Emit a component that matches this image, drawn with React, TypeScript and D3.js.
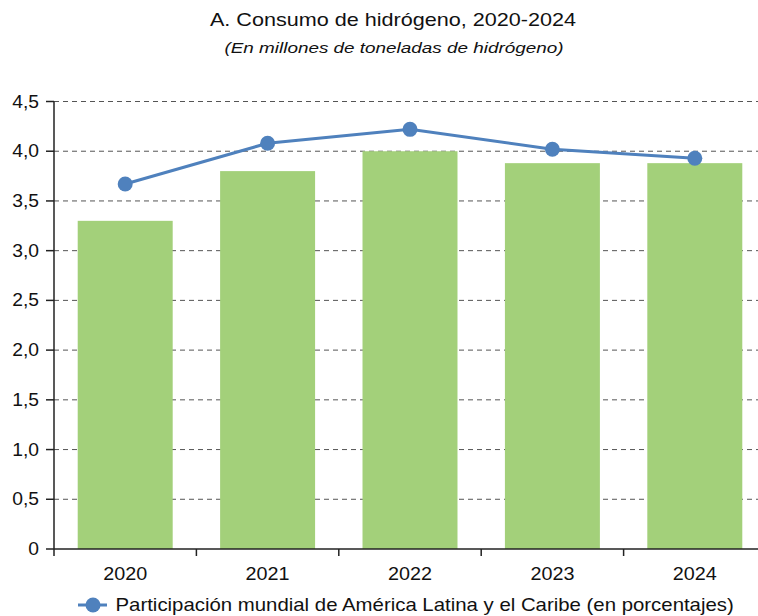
import React from "react";
import * as d3 from "d3";

const years = ["2020", "2021", "2022", "2023", "2024"];
const consumption = [3.3, 3.8, 4.0, 3.88, 3.88];
const share = [3.67, 4.08, 4.22, 4.02, 3.93];
const yTicks = [0, 0.5, 1, 1.5, 2, 2.5, 3, 3.5, 4, 4.5];
const title = "A. Consumo de hidrógeno, 2020-2024";
const subtitle = "(En millones de toneladas de hidrógeno)";
const legendLabel = "Participación mundial de América Latina y el Caribe (en porcentajes)";

const W = 758;
const H = 616;
const FONT = "'Liberation Sans', Arial, sans-serif";

function SText(props: {
  x: number;
  y: number;
  sx: number;
  size: number;
  anchor?: string;
  italic?: boolean;
  children: React.ReactNode;
}) {
  const { x, y, sx, size, anchor = "start", italic = false, children } = props;
  return (
    <text
      transform={`translate(${x},${y}) scale(${sx},1)`}
      textAnchor={anchor}
      fontSize={size}
      fontStyle={italic ? "italic" : "normal"}
      fill="#111"
    >
      {children}
    </text>
  );
}

export default function App() {
  const x = d3.scaleBand<string>().domain(years).range([54, 766]).paddingInner(0.333).paddingOuter(0.1665);
  const y = d3.scaleLinear().domain([0, 4.5]).range([549, 101.5]);
  const line = d3
    .line<number>()
    .x((_, i) => (x(years[i]) as number) + x.bandwidth() / 2)
    .y((d) => y(d));
  const fmt = (v: number) => (v === 0 ? "0" : d3.format(".1f")(v).replace(".", ","));
  const step = x.step();

  return (
    <svg width={W} height={H} style={{ position: "absolute", left: 0, top: 0, background: "#fff" }} fontFamily={FONT}>
      <SText x={393} y={26} sx={1.2} size={18} anchor="middle">{title}</SText>
      <SText x={394} y={53} sx={1.22} size={15.5} anchor="middle" italic>{subtitle}</SText>

      {yTicks.filter((t) => t > 0).map((t) => (
        <line key={"g" + t} x1={54} x2={W} y1={y(t)} y2={y(t)} stroke="#555" strokeWidth={1} strokeDasharray="5,4" />
      ))}

      {years.map((yr, i) => (
        <rect key={yr} x={x(yr)} y={y(consumption[i])} width={x.bandwidth()} height={y(0) - y(consumption[i])} fill="#a3d07a" />
      ))}

      <line x1={54} x2={54} y1={101.5} y2={549} stroke="#222" strokeWidth={1.5} />
      <line x1={54} x2={W} y1={549} y2={549} stroke="#222" strokeWidth={1.5} />
      {yTicks.map((t) => (
        <g key={"t" + t}>
          <line x1={46} x2={54} y1={y(t)} y2={y(t)} stroke="#222" strokeWidth={1.5} />
          <SText x={39} y={y(t) + 6} sx={1.1} size={17.5} anchor="end">{fmt(t)}</SText>
        </g>
      ))}
      {years.map((yr, i) => (
        <g key={"x" + yr}>
          <line x1={54 + step * i} x2={54 + step * i} y1={549} y2={556} stroke="#222" strokeWidth={1.5} />
          <SText x={(x(yr) as number) + x.bandwidth() / 2} y={579.5} sx={1.13} size={17.5} anchor="middle">{yr}</SText>
        </g>
      ))}
      <line x1={54 + step * 5} x2={54 + step * 5} y1={549} y2={556} stroke="#222" strokeWidth={1.5} />

      <path d={line(share) || ""} fill="none" stroke="#4f81bd" strokeWidth={3} />
      {share.map((v, i) => (
        <circle key={"c" + i} cx={(x(years[i]) as number) + x.bandwidth() / 2} cy={y(v)} r={7.5} fill="#4f81bd" />
      ))}

      <line x1={78} x2={107} y1={605} y2={605} stroke="#4f81bd" strokeWidth={3} />
      <circle cx={93} cy={605} r={7.5} fill="#4f81bd" />
      <SText x={115.5} y={610.5} sx={1.165} size={17.5}>{legendLabel}</SText>
    </svg>
  );
}
